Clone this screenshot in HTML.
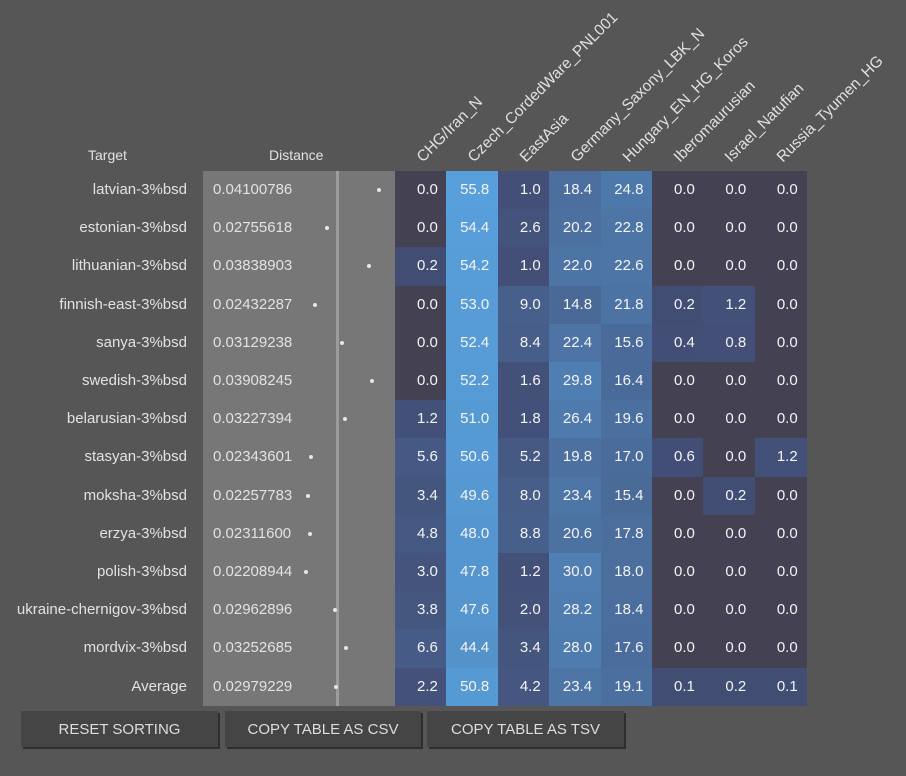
<!DOCTYPE html>
<html><head><meta charset="utf-8"><style>
body{margin:0;width:906px;height:776px;background:#565656;font-family:"Liberation Sans",sans-serif;color:#e2e2e2;overflow:hidden;position:relative}
.a{position:absolute;white-space:nowrap}
.btn{position:absolute;top:711px;height:36px;background:#454545;box-shadow:2px 2px 0 #2e2e2e;font-size:15px;line-height:38px;text-align:center;color:#ddd}
</style></head><body>
<div id="root"></div>
<div class="btn" style="left:21px;width:197px">RESET SORTING</div>
<div class="btn" style="left:225px;width:196px">COPY TABLE AS CSV</div>
<div class="btn" style="left:427px;width:197px">COPY TABLE AS TSV</div>
<script>
const targets=["latvian-3%bsd","estonian-3%bsd","lithuanian-3%bsd","finnish-east-3%bsd","sanya-3%bsd","swedish-3%bsd","belarusian-3%bsd","stasyan-3%bsd","moksha-3%bsd","erzya-3%bsd","polish-3%bsd","ukraine-chernigov-3%bsd","mordvix-3%bsd","Average"];
const distances=[0.04100786,0.02755618,0.03838903,0.02432287,0.03129238,0.03908245,0.03227394,0.02343601,0.02257783,0.02311600,0.02208944,0.02962896,0.03252685,0.02979229];
const columns=["CHG/Iran_N","Czech_CordedWare_PNL001","EastAsia","Germany_Saxony_LBK_N","Hungary_EN_HG_Koros","Iberomaurusian","Israel_Natufian","Russia_Tyumen_HG"];
const values=[
[0.0,55.8,1.0,18.4,24.8,0.0,0.0,0.0],
[0.0,54.4,2.6,20.2,22.8,0.0,0.0,0.0],
[0.2,54.2,1.0,22.0,22.6,0.0,0.0,0.0],
[0.0,53.0,9.0,14.8,21.8,0.2,1.2,0.0],
[0.0,52.4,8.4,22.4,15.6,0.4,0.8,0.0],
[0.0,52.2,1.6,29.8,16.4,0.0,0.0,0.0],
[1.2,51.0,1.8,26.4,19.6,0.0,0.0,0.0],
[5.6,50.6,5.2,19.8,17.0,0.6,0.0,1.2],
[3.4,49.6,8.0,23.4,15.4,0.0,0.2,0.0],
[4.8,48.0,8.8,20.6,17.8,0.0,0.0,0.0],
[3.0,47.8,1.2,30.0,18.0,0.0,0.0,0.0],
[3.8,47.6,2.0,28.2,18.4,0.0,0.0,0.0],
[6.6,44.4,3.4,28.0,17.6,0.0,0.0,0.0],
[2.2,50.8,4.2,23.4,19.1,0.1,0.2,0.1]];
const root=document.getElementById('root');
const top0=171,rh=38.2,c0=395,cw=51.4;
const dx=d=>306+(d-0.02209)*3860;
function color(v){if(v===0)return'rgb(67,65,82)';const t=Math.pow(Math.min(v/56,1),0.8);
const a=[66,76,115],b=[88,160,220];return'rgb('+a.map((x,i)=>Math.round(x+(b[i]-x)*t)).join(',')+')';}
function add(html,name,style,inter){const e=document.createElement('div');e.className='a';e.innerHTML=html;e.setAttribute('style',style);


root.appendChild(e);return e;}
add('Target','target-header','left:88px;top:147px;font-size:14px',true);
add('Distance','distance-header','left:269px;top:147px;font-size:14px',true);
add('','distance-column-bg','left:203px;top:'+top0+'px;width:192px;height:'+(rh*14)+'px;background:#777',false);
add('','distance-average-line','left:336px;top:'+top0+'px;width:3px;height:'+(rh*14)+'px;background:#9c9c9c',false);
columns.forEach((c,j)=>{
 const x=c0+j*cw+25;
 add(c,'column-header-'+j,'left:'+x+'px;top:151px;font-size:15.5px;transform-origin:0 50%;transform:rotate(-45deg);color:#e0e0e0',true);
});
targets.forEach((t,i)=>{
 const y=top0+i*rh;
 add(t,'target-label','left:0;width:187px;text-align:right;top:'+(y+10)+'px;font-size:15px',false);
 add(distances[i].toFixed(8),'distance-value','left:213px;top:'+(y+10)+'px;font-size:15px',false);
 add('','distance-dot','left:'+(dx(distances[i])-2)+'px;top:'+(y+17)+'px;width:4px;height:4px;border-radius:50%;background:#e6e6e6',false);
 values[i].forEach((v,j)=>{
  add(v.toFixed(1),'heat-cell','left:'+(c0+j*cw)+'px;top:'+y+'px;width:'+(cw+0.5)+'px;height:'+(rh+0.5)+'px;background:'+color(v)+';box-sizing:border-box;padding-right:9px;text-align:right;line-height:'+rh+'px;font-size:15px;color:#f4f4f4',false);
 });
});
</script>
</body></html>
